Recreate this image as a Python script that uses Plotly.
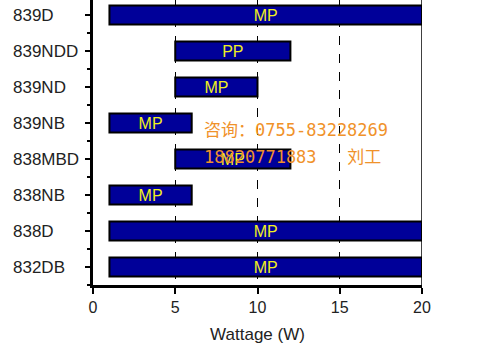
import plotly.graph_objects as go

categories = ["832DB", "838D", "838NB", "838MBD", "839NB", "839ND", "839NDD", "839D"]
start_w = [1, 1, 1, 5, 1, 5, 5, 1]
end_w = [20, 20, 6, 12, 6, 10, 12, 20]
bar_labels = ["MP", "MP", "MP", "MP", "MP", "MP", "PP", "MP"]
x_ticks = [0, 5, 10, 15, 20]
watermark = ["咨询：0755-83228269", "18820771883\u00a0\u00a0\u00a0刘工"]

W, H = 478, 356
L, R, T, B = 93, 56, 0, 71
ph = H - T - B
pw = W - L - R
ytop = len(categories) - 0.5 - 3 / 36

fig = go.Figure()
fig.add_trace(go.Bar(
    y=categories,
    x=[e - s for s, e in zip(start_w, end_w)],
    base=start_w,
    orientation="h",
    width=0.53,
    marker=dict(color="#000099", line=dict(color="black", width=2)),
    text=bar_labels,
    textposition="inside",
    insidetextanchor="middle",
    textangle=0,
    constraintext="none",
    textfont=dict(color="#F0F020", size=16, family="Liberation Sans, Arial"),
    hoverinfo="skip",
))
fig.add_trace(go.Scatter(x=[], y=[], yaxis="y2", showlegend=False))

annotations = []
for c in categories:
    annotations.append(dict(
        x=(11 - L) / pw, xref="paper", y=c, yref="y",
        text=c, showarrow=False, xanchor="left", yanchor="middle",
        font=dict(size=17, color="#222222", family="Liberation Sans, Arial"),
    ))
for i, line in enumerate(watermark):
    ypix = 130 + 27 * i
    annotations.append(dict(
        x=(202 - L) / pw, xref="paper", y=1 - ypix / ph, yref="paper",
        text=line, showarrow=False, xanchor="left", yanchor="middle",
        font=dict(size=17, color="#F0922A", family="DejaVu Sans Mono, Noto Sans CJK SC"),
    ))

fig.update_layout(
    width=W, height=H,
    margin=dict(l=L, r=R, t=T, b=B),
    paper_bgcolor="white", plot_bgcolor="white",
    showlegend=False,
    xaxis=dict(
        range=[0, 20], tickvals=x_ticks, ticks="outside", ticklen=6, tickwidth=2,
        tickcolor="black", showline=True, linecolor="black", linewidth=2.5,
        showgrid=True, gridcolor="black", griddash="dash", gridwidth=1,
        zeroline=False,
        tickfont=dict(size=16, color="#222222", family="Liberation Sans, Arial"),
        title=dict(text="Wattage (W)", standoff=14,
                   font=dict(size=17, color="#222222", family="Liberation Sans, Arial")),
    ),
    yaxis=dict(
        type="category", categoryorder="array", categoryarray=categories,
        range=[-0.5, ytop], ticks="outside", ticklen=5, tickwidth=2, tickcolor="black",
        showline=True, linecolor="black", linewidth=2.5, showgrid=False,
        showticklabels=False, zeroline=False,
    ),
    yaxis2=dict(
        overlaying="y", side="left", type="linear", range=[-0.5, ytop],
        tickvals=[k - 0.5 for k in range(len(categories) + 1)],
        ticks="outside", ticklen=5, tickwidth=2, tickcolor="black",
        showticklabels=False, showgrid=False, showline=False, zeroline=False,
    ),
    annotations=annotations,
    shapes=[dict(type="line", xref="x", yref="paper", x0=20, x1=20, y0=0, y1=1,
                 line=dict(color="black", width=1.5))],
)

fig.write_html("out.html", config={"displayModeBar": False},
               post_script="document.body.style.margin='0';")
